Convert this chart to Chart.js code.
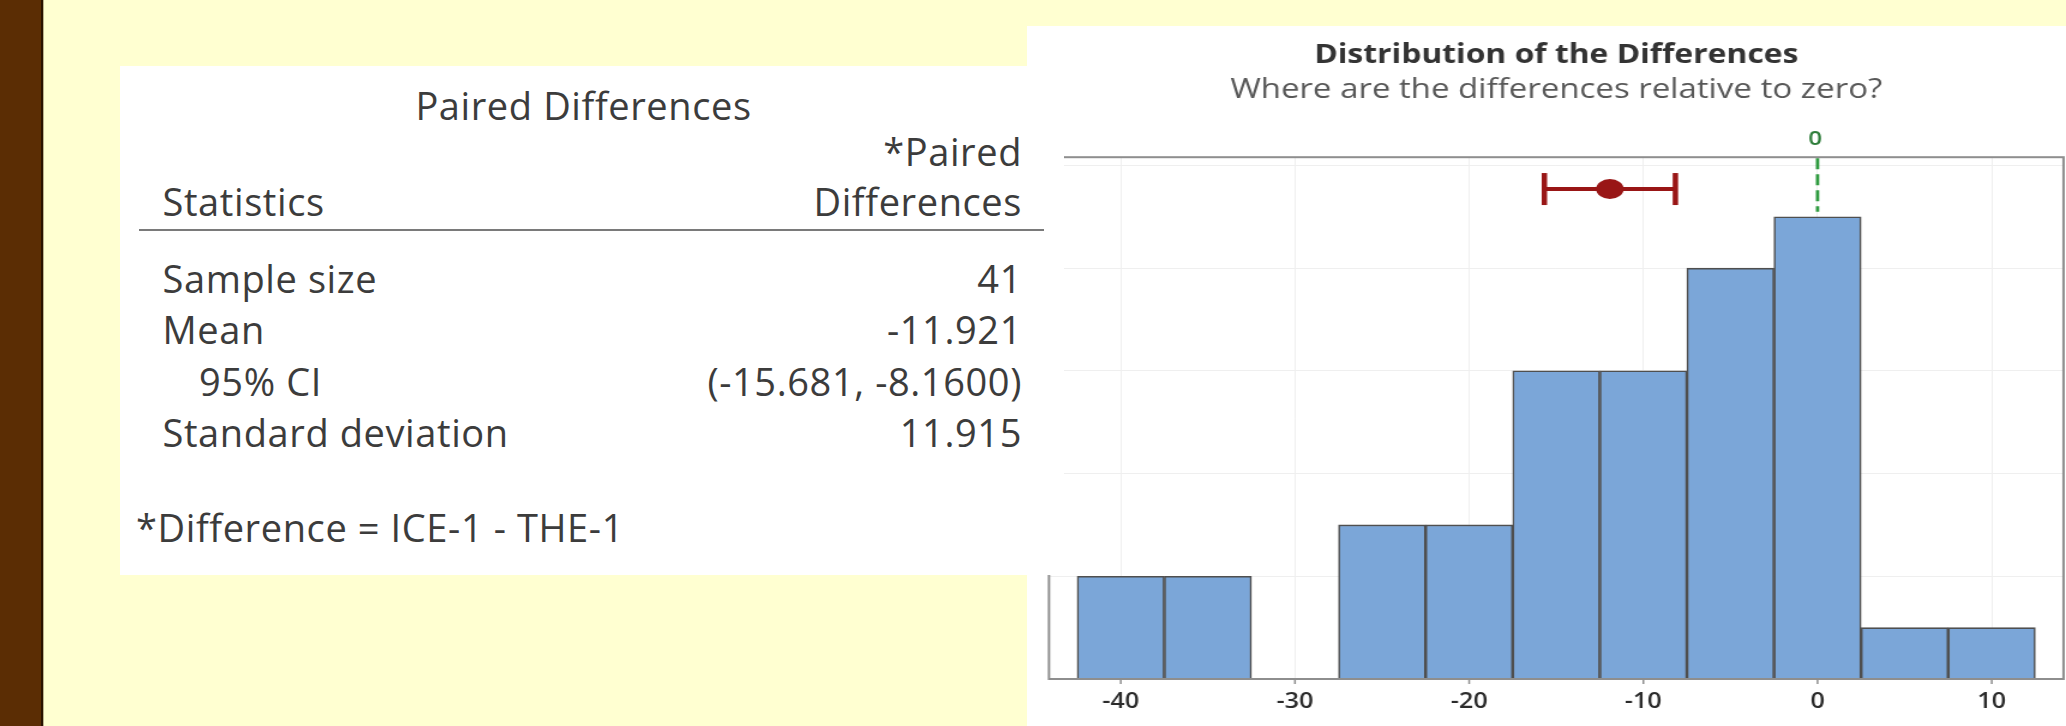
<!DOCTYPE html>
<html>
<head>
<meta charset="utf-8">
<title>Paired Differences</title>
<script src="https://cdn.jsdelivr.net/npm/chart.js@4.4.1/dist/chart.umd.min.js"></script>
<style>
  html, body { margin: 0; padding: 0; }
  body {
    width: 2066px; height: 726px; overflow: hidden; position: relative;
    background: #FFFFD1;
    font-family: "Open Sans", "Noto Sans", sans-serif;
  }
  #edge { position: absolute; left: 0; top: 0; width: 41px; height: 726px; background: #5B2D04; }
  #edgeLine { position: absolute; left: 41px; top: 0; width: 2px; height: 726px; background: #2A1300; }
  #edgeLine2 { position: absolute; left: 43px; top: 0; width: 1px; height: 726px; background: #B9B38E; }
  #chartBox { position: absolute; left: 1027px; top: 26px; width: 1039px; height: 700px; background: #fff; overflow: hidden; }
  #stretch { position: absolute; left: 0; top: 0; width: 866px; height: 700px; transform-origin: 0 0; }
  #stats { position: absolute; left: 120px; top: 66px; width: 944px; height: 509px; background: #fff; z-index: 2; }
  #stats .t { position: absolute; white-space: nowrap; color: #3c3c3c; font-size: 38px; line-height: 38px; letter-spacing: 0.6px; }
  #stats .rule { position: absolute; left: 19px; width: 905px; top: 163px; height: 2px; background: #7a7a7a; }
</style>
</head>
<body>
<div id="edge"></div><div id="edgeLine"></div><div id="edgeLine2"></div>
<div id="chartBox"><div id="stretch"><canvas id="hist" width="866" height="700"></canvas></div></div>
<div id="stats"><div class="rule"></div></div>
<script>
// ---- summary table ----
const tableTitle = 'Paired Differences';
const columnHeader = ['*Paired', 'Differences'];
const rowHeader = 'Statistics';
const statLabels = ['Sample size', 'Mean', '95% CI', 'Standard deviation'];
const statIndent = [false, false, true, false];
const statValues = ['41', '-11.921', '(-15.681, -8.1600)', '11.915'];
const footnote = '*Difference = ICE-1 - THE-1';

// ---- histogram of the differences ----
const binCenters = [-40, -35, -30, -25, -20, -15, -10, -5, 0, 5, 10];
const binCounts  = [2, 2, 0, 3, 3, 6, 6, 8, 9, 1, 1];
const xTickValues = [-40, -30, -20, -10, 0, 10];
const yGridValues = [0, 2, 4, 6, 8, 10];
const meanDiff = -11.921;
const ciLow = -15.681;
const ciHigh = -8.16;
const ciLevel = 9.54;        // height (in counts) at which the interval is drawn
const nullValue = 0;
const nullLineEnd = 9.1;     // the reference line runs from the top down to this count

// ---- table layout ----
const FS = 38, ASC = 0.888 * FS;
const panel = document.getElementById('stats');
const PANEL_LEFT = 120, PANEL_TOP = 66, PANEL_RIGHT = 1064;
function put(text, baseline, opts) {
  const el = document.createElement('div');
  el.className = 't';
  el.textContent = text;
  el.style.top = (baseline - PANEL_TOP - ASC) + 'px';
  if (opts.left !== undefined) el.style.left = (opts.left - PANEL_LEFT) + 'px';
  if (opts.right !== undefined) el.style.right = (PANEL_RIGHT - opts.right) + 'px';
  if (opts.center !== undefined) { el.style.left = (opts.center - PANEL_LEFT) + 'px'; el.style.transform = 'translateX(-50%)'; }
  panel.appendChild(el);
}
const VALUE_RIGHT = 1022, LABEL_LEFT = 162.5;
put(tableTitle, 119.5, { center: 583.5 });
put(columnHeader[0], 166, { right: VALUE_RIGHT });
put(rowHeader, 216, { left: LABEL_LEFT });
put(columnHeader[1], 216, { right: VALUE_RIGHT });
statLabels.forEach((lab, i) => {
  const base = 292.6 + i * 51.4;
  put(lab, base, { left: statIndent[i] ? 199 : LABEL_LEFT });
  put(statValues[i], base, { right: VALUE_RIGHT });
});
put(footnote, 541.7, { left: 136 });

// ---- histogram: drawn narrow, then widened to the panel ----
const BOX_W = 1039, CANVAS_W = 866;
const SX = BOX_W / CANVAS_W;
document.getElementById('stretch').style.transform = 'scaleX(' + SX + ')';

// plot frame, null-value reference line and confidence interval
const overlay = {
  id: 'overlay',
  afterDatasetsDraw(chart) {
    const { ctx, chartArea: a, scales: { x, y } } = chart;
    ctx.save();
    ctx.strokeStyle = '#8e8e8e';
    ctx.lineWidth = 2;
    ctx.strokeRect(a.left, a.top, a.right - a.left, a.bottom - a.top);

    ctx.lineWidth = 1.5;
    xTickValues.forEach(v => {
      const px = x.getPixelForValue(v);
      ctx.beginPath(); ctx.moveTo(px, a.bottom); ctx.lineTo(px, a.bottom + 5); ctx.stroke();
    });

    // dashed reference line at the hypothesised value
    const x0 = x.getPixelForValue(nullValue);
    ctx.strokeStyle = '#2E9B3F';
    ctx.lineWidth = 2.8;
    ctx.setLineDash([11, 5]);
    ctx.beginPath(); ctx.moveTo(x0, a.top + 1); ctx.lineTo(x0, y.getPixelForValue(nullLineEnd)); ctx.stroke();
    ctx.setLineDash([]);
    ctx.fillStyle = '#2E7D3A';
    ctx.font = '600 20px "Open Sans"';
    ctx.textAlign = 'center';
    ctx.textBaseline = 'middle';
    ctx.fillText(String(nullValue), x0 - 2, a.top - 18);

    // mean with its 95% confidence interval
    const yc = y.getPixelForValue(ciLevel);
    const xl = x.getPixelForValue(ciLow), xh = x.getPixelForValue(ciHigh), xm = x.getPixelForValue(meanDiff);
    ctx.strokeStyle = '#991616';
    ctx.fillStyle = '#991616';
    ctx.lineWidth = 4;
    ctx.beginPath(); ctx.moveTo(xl, yc); ctx.lineTo(xh, yc); ctx.stroke();
    ctx.lineWidth = 4.5;
    ctx.beginPath(); ctx.moveTo(xl, yc - 16); ctx.lineTo(xl, yc + 16); ctx.stroke();
    ctx.beginPath(); ctx.moveTo(xh, yc - 16); ctx.lineTo(xh, yc + 16); ctx.stroke();
    ctx.beginPath(); ctx.ellipse(xm, yc, 11.5, 10, 0, 0, Math.PI * 2); ctx.fill();
    ctx.restore();
  }
};

new Chart(document.getElementById('hist'), {
  type: 'bar',
  data: {
    datasets: [{
      data: binCenters.map((c, i) => ({ x: c, y: binCounts[i] })),
      backgroundColor: '#7BA6D8',
      borderColor: '#4F4F4F',
      borderWidth: 1.6,
      barPercentage: 1,
      categoryPercentage: 1
    }]
  },
  options: {
    responsive: false,
    devicePixelRatio: 1,
    animation: false,
    events: [],
    layout: { padding: { left: 22 / SX, right: 2.5 / SX, top: 0, bottom: 0 } },
    plugins: {
      legend: { display: false },
      tooltip: { enabled: false },
      title: {
        display: true,
        text: 'Distribution of the Differences',
        color: '#333333',
        font: { family: 'Open Sans', size: 26.5, weight: 'bold' },
        padding: { top: 13.7, bottom: 2 }
      },
      subtitle: {
        display: true,
        text: 'Where are the differences relative to zero?',
        color: '#585858',
        font: { family: 'Open Sans', size: 27.5 },
        padding: { top: 0.2, bottom: 50.5 }
      }
    },
    scales: {
      x: {
        type: 'linear',
        min: -44.12,
        max: 14.12,
        offset: false,
        afterBuildTicks(s) { s.ticks = xTickValues.map(v => ({ value: v })); },
        afterFit(s) { s.height = 47; },
        grid: { color: '#EFEFEF', lineWidth: 1, drawTicks: false, offset: false },
        border: { display: false },
        ticks: {
          color: '#2b2b2b',
          font: { family: 'Open Sans', size: 21, weight: '600' },
          padding: 10,
          maxRotation: 0
        }
      },
      y: {
        min: 0,
        max: 10.16,
        afterBuildTicks(s) { s.ticks = yGridValues.map(v => ({ value: v })); },
        afterFit(s) { s.width = 0; },
        grid: { color: '#EFEFEF', lineWidth: 1, drawTicks: false },
        border: { display: false },
        ticks: { display: false }
      }
    }
  },
  plugins: [overlay]
});
</script>
</body>
</html>
